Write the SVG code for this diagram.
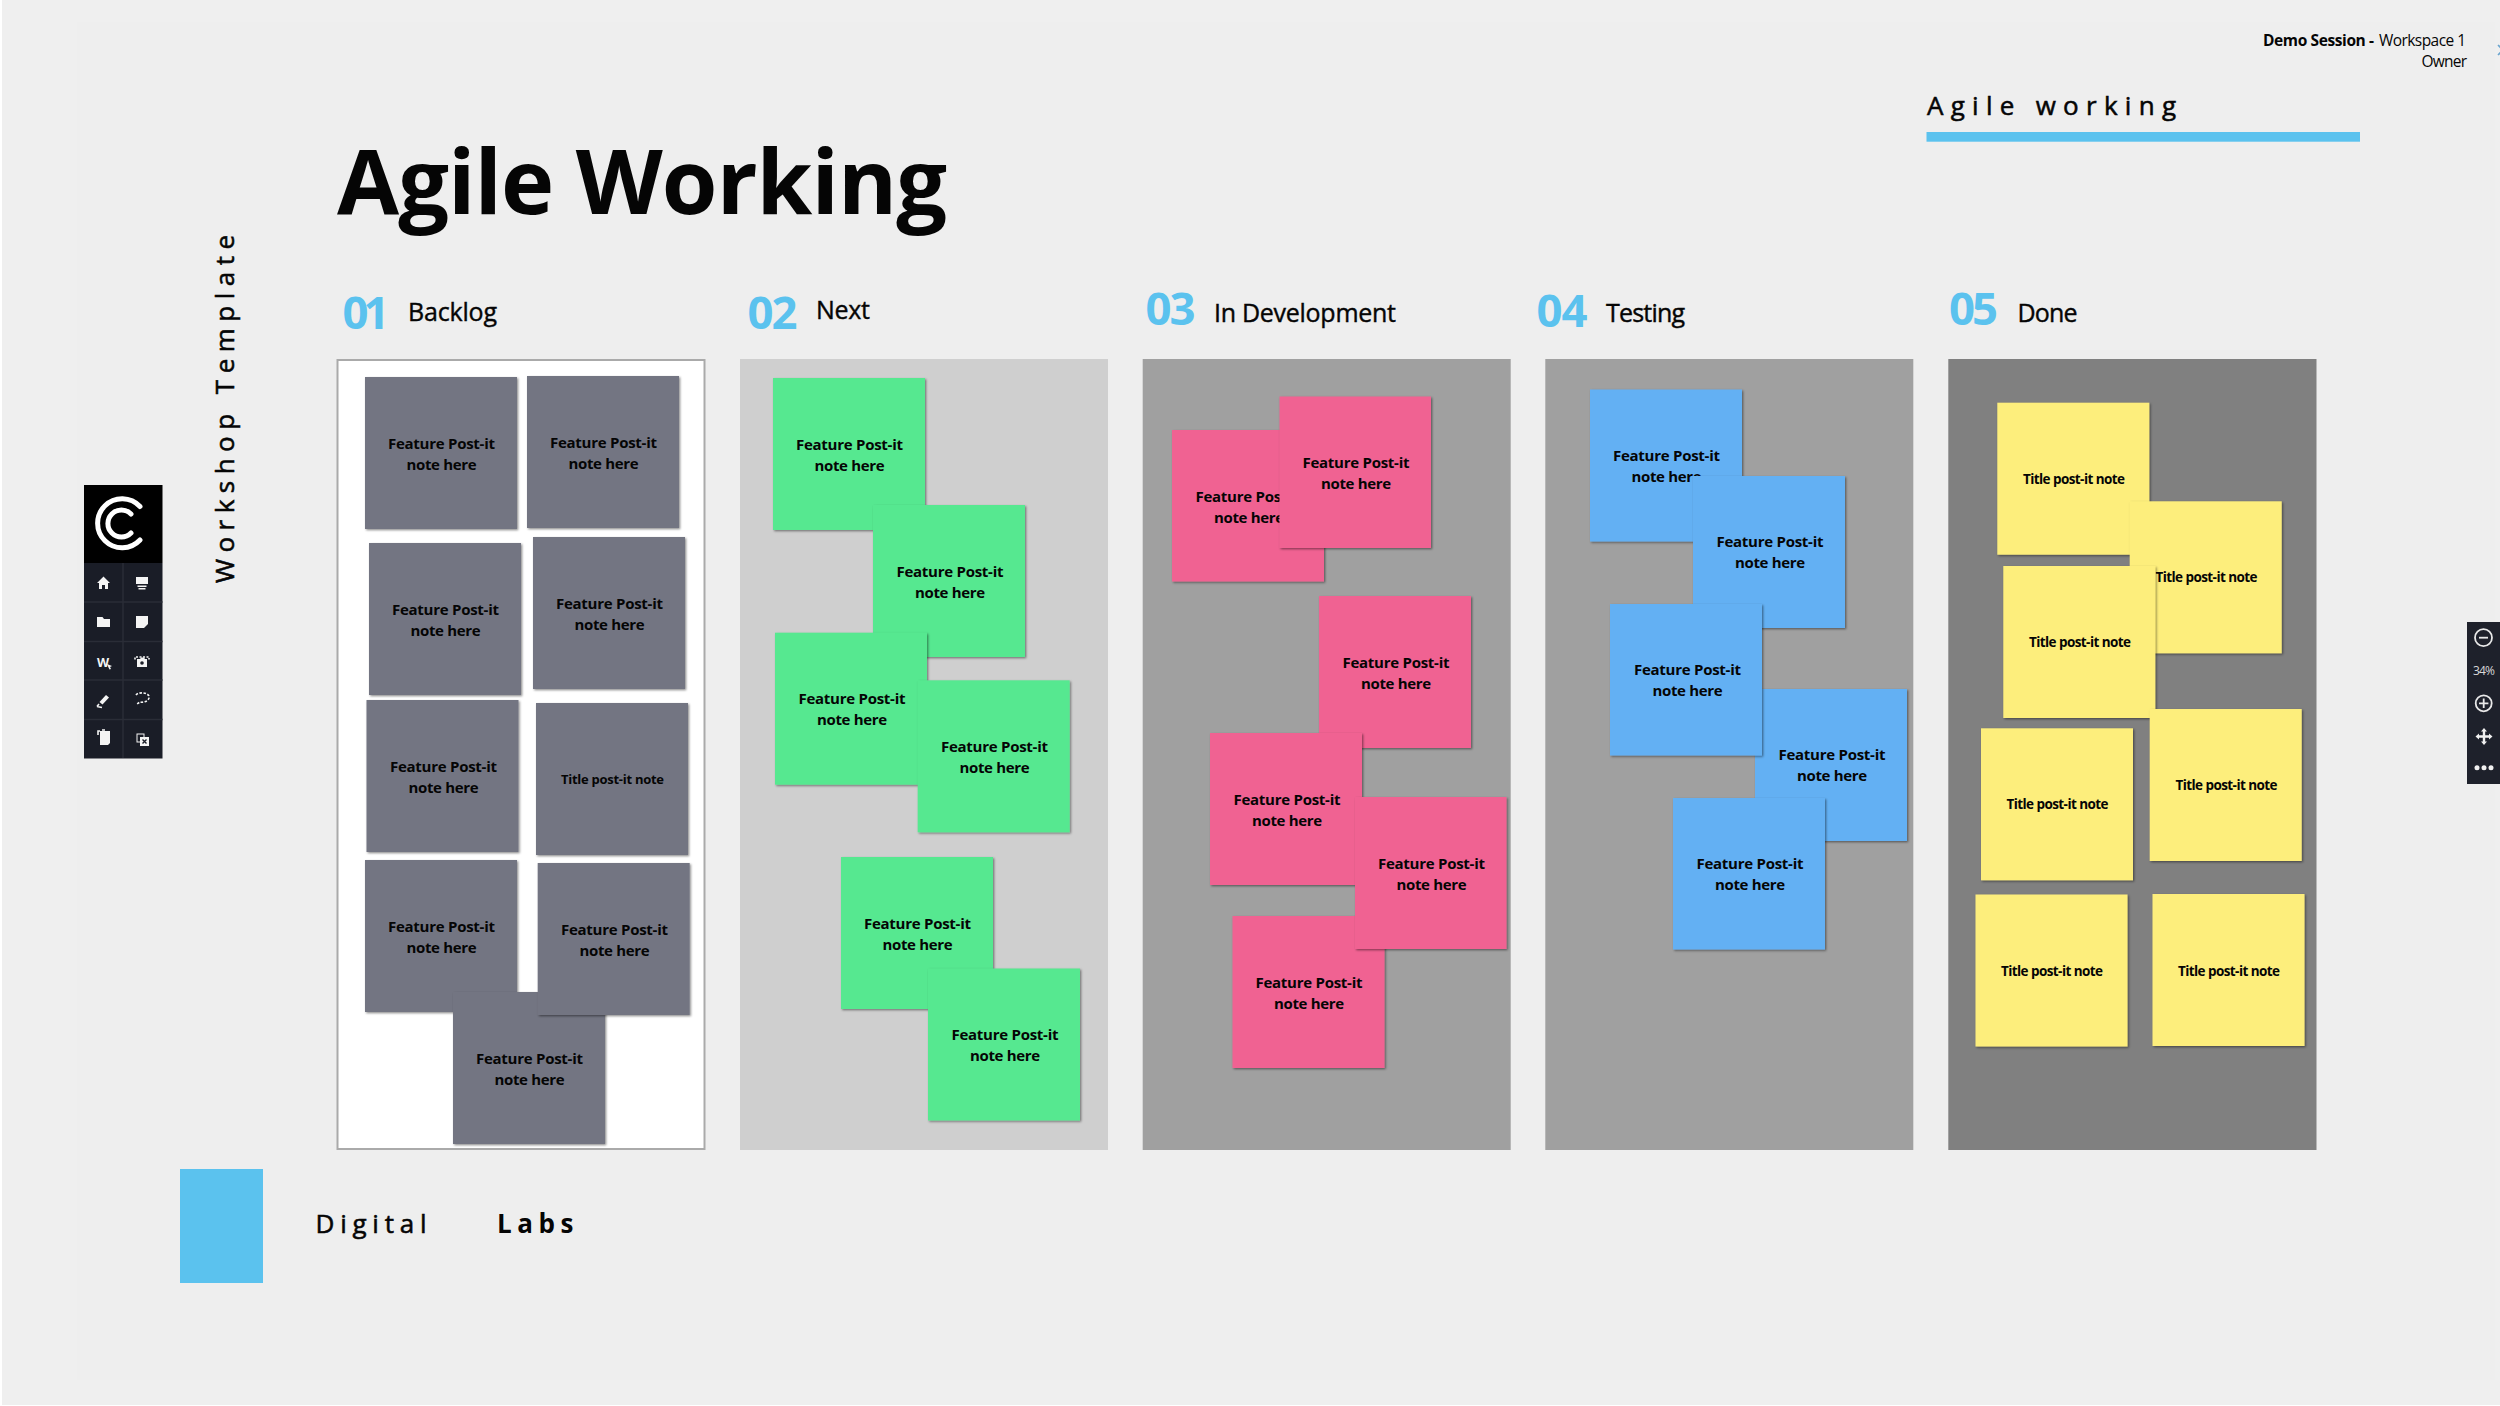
<svg xmlns="http://www.w3.org/2000/svg" width="2500" height="1406" viewBox="0 0 2500 1406">
<defs>
<filter id="sh" x="-5%" y="-5%" width="112%" height="112%"><feDropShadow dx="1.2" dy="1.2" stdDeviation="0.9" flood-color="#000" flood-opacity="0.45"/></filter>
</defs>
<style>
text{font-family:"Open Sans","Noto Sans","Liberation Sans",sans-serif;fill:#050505}
.n{filter:url(#sh)}
.g{fill:#737582}.gr{fill:#57e890}.p{fill:#f06292}.b{fill:#63b0f3}.y{fill:#fdee7c}
.f{font-size:15px;font-weight:700;text-anchor:middle}
.t{font-size:13.5px;font-weight:700;text-anchor:middle}
.num{font-size:45.5px;font-weight:700;fill:#5bc2ee}
.hd{font-size:25px;font-weight:400;stroke:#050505;stroke-width:.4}
.med{font-weight:400;stroke:#050505;stroke-width:.55}
.ic{fill:#f4f4f4}
.il{fill:none;stroke:#f4f4f4;stroke-width:1.6}
.rl{fill:none;stroke:#e8e8e8;stroke-width:1.8}
.grid{stroke:#2a2d37;stroke-width:1.5}
</style>
<rect width="2500" height="1406" fill="#ffffff"/>
<rect x="2" y="0" width="2498" height="1405" fill="#efefef"/>
<rect x="77" y="22" width="2418" height="1358" fill="#eeeeee"/>

<g id="title"><text x="337" y="214" font-size="90" font-weight="700" textLength="610">Agile Working</text></g>
<g id="side-label"><text class="med" transform="translate(233.5,583) rotate(-90)" font-size="26" textLength="348">Workshop Template</text></g>
<g id="session">
<text x="2263" y="46" font-size="15.5" font-weight="700" textLength="111">Demo Session -</text>
<text x="2379" y="46" font-size="15.5" textLength="87" fill="#222">Workspace 1</text>
<text x="2421.5" y="66.5" font-size="15.5" textLength="45.5">Owner</text>
<polyline points="2498,45 2503,50 2498,55" fill="none" stroke="#6aa5cf" stroke-width="1.6"/>
</g>
<g id="section-tab">
<text class="med" x="1927" y="115" font-size="26" textLength="249">Agile working</text>
<rect x="1926.5" y="132" width="433.5" height="9.7" fill="#5bc2ee"/>
</g>
<g id="footer">
<rect x="180" y="1169" width="83" height="114" fill="#5bc2ee"/>
<text class="med" x="315.5" y="1232.7" font-size="26" textLength="111">Digital</text>
<text x="497" y="1232.7" font-size="26" font-weight="700" textLength="76.5">Labs</text>
</g>

<g id="headers">
<text class="num" x="342.5" y="329" textLength="47">01</text><text class="hd" x="408" y="320.7" textLength="89">Backlog</text>
<text class="num" x="747.5" y="329" textLength="50">02</text><text class="hd" x="816" y="318.7" textLength="54">Next</text>
<text class="num" x="1145.5" y="324.5" textLength="50">03</text><text class="hd" x="1214" y="321.7" textLength="182">In Development</text>
<text class="num" x="1536.5" y="327" textLength="51">04</text><text class="hd" x="1606" y="321.7" textLength="79">Testing</text>
<text class="num" x="1949" y="325" textLength="49">05</text><text class="hd" x="2017.5" y="321.7" textLength="60">Done</text>
</g>

<g id="panels">
<rect x="337.5" y="360" width="367" height="789" fill="#fff" stroke="#aaa" stroke-width="2"/>
<rect x="740" y="359" width="368" height="791" fill="#cfcfcf"/>
<rect x="1142.7" y="359" width="368" height="791" fill="#a0a0a0"/>
<rect x="1545.3" y="359" width="368" height="791" fill="#a0a0a0"/>
<rect x="1948.3" y="359" width="368.2" height="791" fill="#808080"/>
</g>

<g id="backlog">
<g id="b1"><rect class="n g" x="365" y="377" width="152" height="152"/><text class="f" x="441.5" y="448.5" textLength="107">Feature Post-it</text><text class="f" x="441.5" y="469.5" textLength="70">note here</text></g>
<g id="b2"><rect class="n g" x="527" y="376" width="152" height="152"/><text class="f" x="603.5" y="447.5" textLength="107">Feature Post-it</text><text class="f" x="603.5" y="468.5" textLength="70">note here</text></g>
<g id="b3"><rect class="n g" x="369" y="543" width="152" height="152"/><text class="f" x="445.5" y="614.5" textLength="107">Feature Post-it</text><text class="f" x="445.5" y="635.5" textLength="70">note here</text></g>
<g id="b4"><rect class="n g" x="533" y="537" width="152" height="152"/><text class="f" x="609.5" y="608.5" textLength="107">Feature Post-it</text><text class="f" x="609.5" y="629.5" textLength="70">note here</text></g>
<g id="b5"><rect class="n g" x="366.5" y="700" width="152" height="152"/><text class="f" x="443.5" y="771.5" textLength="107">Feature Post-it</text><text class="f" x="443.5" y="792.5" textLength="70">note here</text></g>
<g id="b6"><rect class="n g" x="536" y="703" width="152" height="152"/><text class="t" x="612.5" y="784" textLength="103" style="font-size:13px">Title post-it note</text></g>
<g id="b7"><rect class="n g" x="365" y="860" width="152" height="152"/><text class="f" x="441.5" y="931.5" textLength="107">Feature Post-it</text><text class="f" x="441.5" y="952.5" textLength="70">note here</text></g>
<g id="b9"><rect class="n g" x="453" y="992" width="152" height="152"/><text class="f" x="529.5" y="1063.5" textLength="107">Feature Post-it</text><text class="f" x="529.5" y="1084.5" textLength="70">note here</text></g>
<g id="b8"><rect class="n g" x="537.7" y="863" width="152" height="152"/><text class="f" x="614.5" y="934.5" textLength="107">Feature Post-it</text><text class="f" x="614.5" y="955.5" textLength="70">note here</text></g>
</g>

<g id="next">
<g id="n1"><rect class="n gr" x="773" y="378" width="152" height="152"/><text class="f" x="849.5" y="449.5" textLength="107">Feature Post-it</text><text class="f" x="849.5" y="470.5" textLength="70">note here</text></g>
<g id="n2"><rect class="n gr" x="873" y="505" width="152" height="152"/><text class="f" x="950" y="576.5" textLength="107">Feature Post-it</text><text class="f" x="950" y="597.5" textLength="70">note here</text></g>
<g id="n3"><rect class="n gr" x="775" y="632.7" width="152" height="152"/><text class="f" x="852" y="704" textLength="107">Feature Post-it</text><text class="f" x="852" y="725" textLength="70">note here</text></g>
<g id="n4"><rect class="n gr" x="917.7" y="680.3" width="152" height="152"/><text class="f" x="994.5" y="751.8" textLength="107">Feature Post-it</text><text class="f" x="994.5" y="772.8" textLength="70">note here</text></g>
<g id="n5"><rect class="n gr" x="841" y="857" width="152" height="152"/><text class="f" x="917.5" y="928.5" textLength="107">Feature Post-it</text><text class="f" x="917.5" y="949.5" textLength="70">note here</text></g>
<g id="n6"><rect class="n gr" x="928" y="968.5" width="152" height="152"/><text class="f" x="1005" y="1040" textLength="107">Feature Post-it</text><text class="f" x="1005" y="1061" textLength="70">note here</text></g>
</g>

<g id="in-development">
<g id="d1"><rect class="n p" x="1172" y="430" width="152" height="151.5"/><text class="f" x="1249" y="501.5" textLength="107">Feature Post-it</text><text class="f" x="1249" y="522.5" textLength="70">note here</text></g>
<g id="d2"><rect class="n p" x="1279.5" y="396.5" width="151.5" height="151.5"/><text class="f" x="1356" y="468" textLength="107">Feature Post-it</text><text class="f" x="1356" y="489" textLength="70">note here</text></g>
<g id="d3"><rect class="n p" x="1319" y="596" width="152" height="152"/><text class="f" x="1396" y="667.5" textLength="107">Feature Post-it</text><text class="f" x="1396" y="688.5" textLength="70">note here</text></g>
<g id="d4"><rect class="n p" x="1210" y="733" width="152" height="152"/><text class="f" x="1287" y="804.5" textLength="107">Feature Post-it</text><text class="f" x="1287" y="825.5" textLength="70">note here</text></g>
<g id="d6"><rect class="n p" x="1232.5" y="916" width="152" height="152"/><text class="f" x="1309" y="987.5" textLength="107">Feature Post-it</text><text class="f" x="1309" y="1008.5" textLength="70">note here</text></g>
<g id="d5"><rect class="n p" x="1355" y="797" width="151.5" height="152"/><text class="f" x="1431.5" y="868.5" textLength="107">Feature Post-it</text><text class="f" x="1431.5" y="889.5" textLength="70">note here</text></g>
</g>

<g id="testing">
<g id="t1"><rect class="n b" x="1590" y="389.5" width="152" height="152"/><text class="f" x="1666.5" y="460.5" textLength="107">Feature Post-it</text><text class="f" x="1666.5" y="481.5" textLength="70">note here</text></g>
<g id="t2"><rect class="n b" x="1693" y="476" width="152" height="152"/><text class="f" x="1770" y="547" textLength="107">Feature Post-it</text><text class="f" x="1770" y="568" textLength="70">note here</text></g>
<g id="t4"><rect class="n b" x="1755" y="689" width="152" height="152"/><text class="f" x="1832" y="760" textLength="107">Feature Post-it</text><text class="f" x="1832" y="781" textLength="70">note here</text></g>
<g id="t3"><rect class="n b" x="1610" y="604" width="152" height="151.5"/><text class="f" x="1687.5" y="675" textLength="107">Feature Post-it</text><text class="f" x="1687.5" y="696" textLength="70">note here</text></g>
<g id="t5"><rect class="n b" x="1673" y="798" width="152" height="151.5"/><text class="f" x="1750" y="869" textLength="107">Feature Post-it</text><text class="f" x="1750" y="890" textLength="70">note here</text></g>
</g>

<g id="done">
<g id="y1"><rect class="n y" x="1997.3" y="402.7" width="152" height="152"/><text class="t" x="2074" y="483.5" textLength="102">Title post-it note</text></g>
<g id="y2"><rect class="n y" x="2129.7" y="501.3" width="152" height="152"/><text class="t" x="2206.5" y="582" textLength="102">Title post-it note</text></g>
<g id="y3"><rect class="n y" x="2003.3" y="566" width="152" height="152"/><text class="t" x="2080" y="647" textLength="102">Title post-it note</text></g>
<g id="y5"><rect class="n y" x="2149.7" y="709" width="152" height="152"/><text class="t" x="2226.5" y="790" textLength="102">Title post-it note</text></g>
<g id="y4"><rect class="n y" x="1981" y="728.3" width="152" height="152"/><text class="t" x="2057.5" y="809" textLength="102">Title post-it note</text></g>
<g id="y6"><rect class="n y" x="1975.5" y="894.5" width="152" height="152"/><text class="t" x="2052" y="976" textLength="102">Title post-it note</text></g>
<g id="y7"><rect class="n y" x="2152.5" y="894" width="152" height="152"/><text class="t" x="2229" y="975.5" textLength="102">Title post-it note</text></g>
</g>

<g id="left-toolbar">
<rect x="84" y="563" width="78.5" height="195.5" fill="#1a1d27"/>
<rect x="84" y="485" width="78.5" height="78" fill="#000"/>
<path class="grid" d="M123 563V758M84 602H162.500M84 641.500H162.500M84 680H162.500M84 719.500H162.500"/>
<path d="M140 506.500A24.500 24.500 0 1 0 140 540" fill="none" stroke="#fff" stroke-width="5" stroke-linecap="round"/>
<path d="M131 514A13.500 13.500 0 1 0 131 533" fill="none" stroke="#fff" stroke-width="5" stroke-linecap="round"/>
<path class="ic" d="M103.500 576.500L110 583H108V589H105V585H102V589H99V583H97Z"/>
<path class="ic" d="M136 577H148V584H136ZM137.500 585.500H146.500V587H137.500ZM138.500 588H145.500V589.500H138.500Z"/>
<path class="ic" d="M97 617H102.500L104 619H110V627H97Z"/>
<path class="ic" d="M136 616H148V624L144 628H136Z"/>
<text x="97" y="667" font-size="12.5" font-weight="700" style="fill:#f4f4f4" textLength="10">W</text>
<path class="ic" d="M107 664L112 666L110 667L111 669L109.500 669.500L108.500 667.500Z"/>
<path class="il" d="M135 659.500V657H149V659.500" stroke-dasharray="2 1.500"/>
<path class="ic" d="M137 659H140L141 657.500H144L145 659H147V667H137Z"/>
<circle cx="142" cy="663" r="1.8" fill="#1a1d27"/>
<path class="ic" d="M106 695L109 697.500L102.500 704.500L99.500 702Z"/>
<path class="il" d="M97 706.500L99 704M97 706.500L102 707.500"/>
<path class="il" d="M136 695C138 692 147 692 149 696C150 700 145 703 140 702L137 704" stroke-dasharray="2.500 1.500"/>
<path class="il" d="M98 735V731H100M102 730H105"/>
<path class="ic" d="M100 731H110V743L108 745H100Z"/>
<rect x="137" y="734" width="7" height="8" fill="none" stroke="#f4f4f4" stroke-width="1"/>
<rect x="140" y="737" width="9" height="9" fill="#f4f4f4"/>
<path d="M142.500 739.500L146.500 743.500M146.500 739.500L142.500 743.500" stroke="#1a1d27" stroke-width="1.4"/>
</g>

<g id="right-toolbar">
<rect x="2467" y="622" width="33" height="162" fill="#1e212b"/>
<circle class="rl" cx="2483.5" cy="637.7" r="8.5"/><path class="rl" d="M2479 637.700H2488"/>
<text x="2484" y="675" font-size="12" text-anchor="middle" style="fill:#d8d8d8" textLength="22">34%</text>
<circle class="rl" cx="2483.7" cy="703.3" r="8"/><path class="rl" d="M2479 703.300H2488.400M2483.700 698.600V708"/>
<path d="M2484 728L2487 731.500H2485.200V735.300H2489V733.500L2492.500 736.500L2489 739.500V737.700H2485.200V741.500H2487L2484 745L2481 741.500H2482.800V737.700H2479V739.500L2475.500 736.500L2479 733.500V735.300H2482.800V731.500H2481Z" fill="#f0f0f0"/>
<circle cx="2477" cy="767.7" r="2.5" fill="#f0f0f0"/><circle cx="2484" cy="767.7" r="2.5" fill="#f0f0f0"/><circle cx="2491" cy="767.7" r="2.5" fill="#f0f0f0"/>
</g>
</svg>
